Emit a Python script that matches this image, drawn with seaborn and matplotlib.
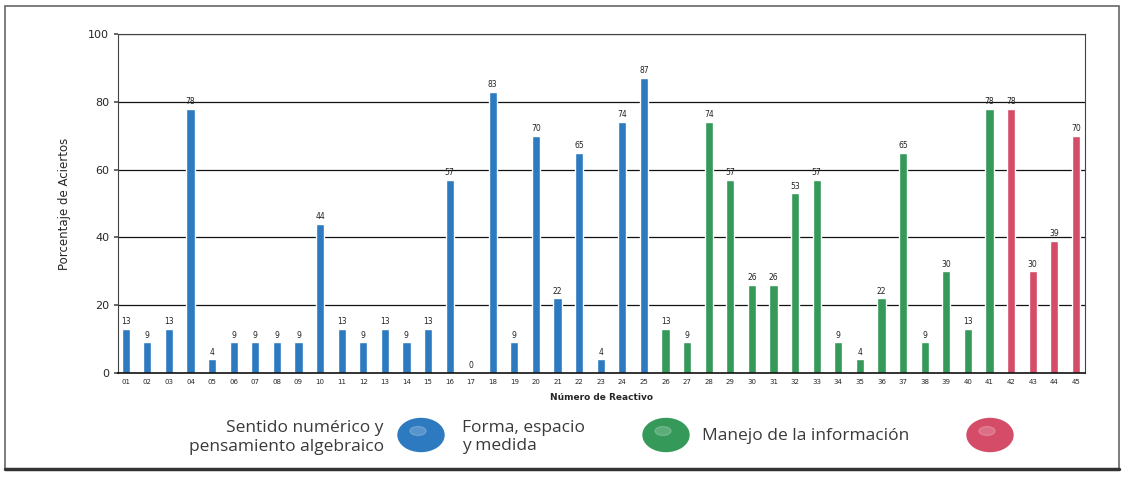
import matplotlib
matplotlib.use("Agg")
import matplotlib.pyplot as plt
import seaborn as sns
import pandas as pd
from matplotlib.patches import Ellipse, Rectangle

reactivos = [f"{i:02d}" for i in range(1, 46)]
valores = [13, 9, 13, 78, 4, 9, 9, 9, 9, 44, 13, 9, 13, 9, 13, 57, 0, 83, 9, 70,
           22, 65, 4, 74, 87,
           13, 9, 74, 57, 26, 26, 53, 57, 9, 4, 22, 65, 9, 30, 13, 78,
           78, 30, 39, 70]
ejes = (["Sentido numérico y pensamiento algebraico"] * 25
        + ["Forma, espacio y medida"] * 16
        + ["Manejo de la información"] * 4)
colores = {"Sentido numérico y pensamiento algebraico": "#2e7ac0",
           "Forma, espacio y medida": "#35995a",
           "Manejo de la información": "#d44c68"}

df = pd.DataFrame({"Reactivo": reactivos, "Valor": valores, "Eje": ejes})

sns.set_theme(style="white")
plt.rcParams["font.family"] = ["DejaVu Sans"]

fig = plt.figure(figsize=(11.25, 4.8), dpi=100)
ax = fig.add_axes([0.105, 0.223, 0.859, 0.706])

sns.barplot(data=df, x="Reactivo", y="Valor", hue="Eje", palette=colores,
            dodge=False, width=0.38, legend=False, ax=ax, order=reactivos,
            saturation=1)
for c in ax.containers:
    ax.bar_label(c, fontsize=5.5, padding=2, color="#222222")

ax.set_ylim(0, 100)
ax.set_xlim(-0.35, 44.4)
ax.set_yticks([0, 20, 40, 60, 80, 100])
ax.tick_params(axis="y", labelsize=8, length=3, left=True, color="#555555")
ax.tick_params(axis="x", labelsize=5, length=0, pad=4)
for y in [20, 40, 60, 80, 100]:
    ax.axhline(y, color="#111111", lw=0.9, zorder=0)
for s in ax.spines.values():
    s.set_color("#444444")
    s.set_linewidth(0.8)
ax.spines["bottom"].set_color("#111111")
ax.spines["bottom"].set_linewidth(1.2)
ax.set_ylabel("Porcentaje de Aciertos", fontsize=8.5, labelpad=12)
ax.set_xlabel("Número de Reactivo", fontsize=6.5, fontweight="bold", labelpad=6)

# legend area
lg = fig.add_axes([0, 0, 1, 1], facecolor="none")
lg.set_xlim(0, 1125)
lg.set_ylim(480, 0)
lg.axis("off")
fam = ["Open Sans", "DejaVu Sans"]
tc = "#3a3a3a"
fs = 12.5
lg.text(384, 428, "Sentido numérico y", ha="right", va="center", fontsize=fs,
        family=fam, color=tc)
lg.text(384, 447, "pensamiento algebraico", ha="right", va="center", fontsize=fs,
        family=fam, color=tc)
lg.text(462, 428, "Forma, espacio", ha="left", va="center", fontsize=fs,
        family=fam, color=tc)
lg.text(462, 446, "y medida", ha="left", va="center", fontsize=fs,
        family=fam, color=tc)
lg.text(702, 436, "Manejo de la información", ha="left", va="center", fontsize=fs,
        family=fam, color=tc)
for cx, col in [(421, "#2e7ac0"), (666, "#35995a"), (990, "#d44c68")]:
    lg.add_patch(Ellipse((cx, 435), 46, 33, color=col, zorder=2))
    lg.add_patch(Ellipse((cx - 3, 431), 16, 9, color="white", alpha=0.2, zorder=3))

lg.add_patch(Rectangle((5, 6), 1114, 463, fill=False, ec="#666666", lw=1.2))
lg.plot([5, 1119], [469, 469], color="#333333", lw=2.5)

fig.savefig("out.png", dpi=100)
